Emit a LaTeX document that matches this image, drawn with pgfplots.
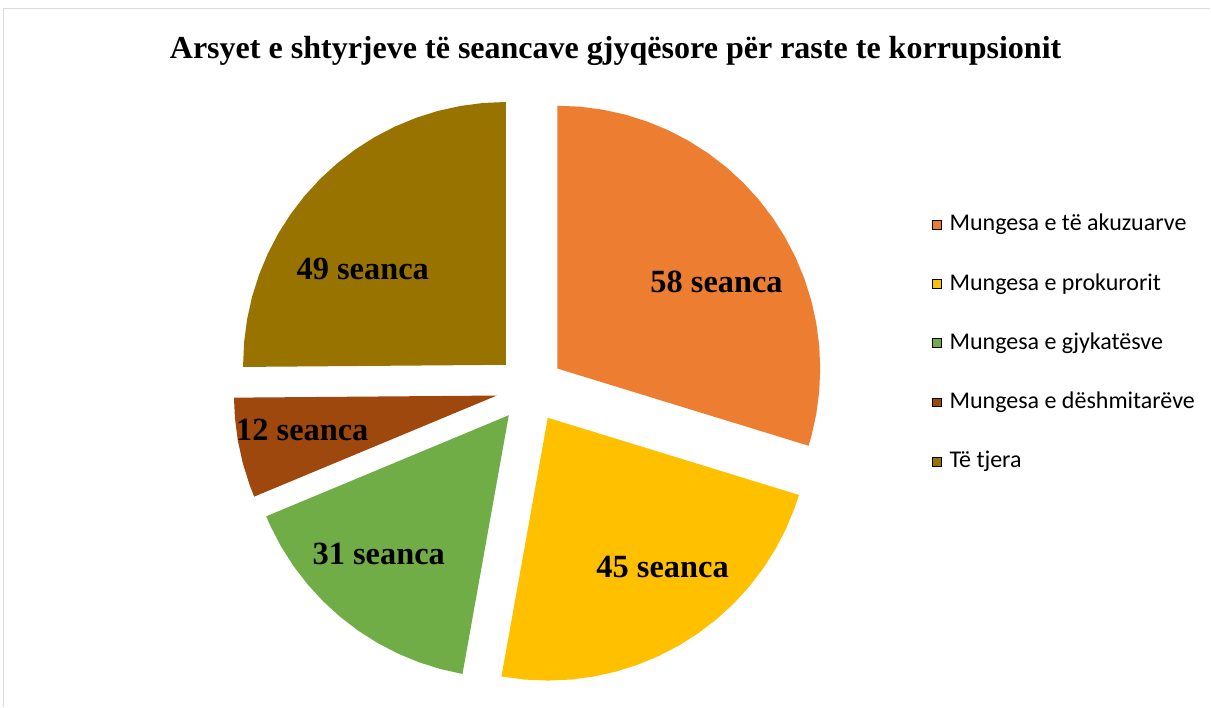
\documentclass[border=0pt]{standalone}
\usepackage{pgfplots}
\pgfplotsset{compat=1.18}
\usepackage{fontspec}
\setmainfont{Liberation Serif}
\newfontfamily\carlito{Carlito}
\definecolor{cOrange}{HTML}{ED7D31}
\definecolor{cYellow}{HTML}{FFC000}
\definecolor{cGreen}{HTML}{70AD47}
\definecolor{cBrown}{HTML}{9E480E}
\definecolor{cOlive}{HTML}{997300}
\definecolor{cFrame}{HTML}{D9D9D9}
\begin{document}
\begin{tikzpicture}
\begin{axis}[
  scale only axis, width=605.5pt, height=353.5pt,
  xmin=-530.4, xmax=680.6, ymin=-318, ymax=389,
  hide axis, clip=false,
  legend image code/.code={\fill[#1] (0pt,-2.2pt) rectangle (4.4pt,2.2pt); \path (7.5pt,0pt);},
  legend style={at={(axis cs:401.6,45.5)}, anchor=west, draw=none, fill=none,
    inner sep=0pt, row sep=16.6pt,
    font=\carlito\fontsize{12}{14}\selectfont,
    nodes={inner sep=1pt, text height=8.5pt, text depth=2.5pt}},
  legend cell align=left,
]
% bounding box
\path (axis cs:-530.4,-318) rectangle (axis cs:680.6,389);
% frame
\draw[cFrame, line width=0.75pt] (axis cs:-526.9,-318) -- (axis cs:-526.9,380.5) -- (axis cs:680.6,380.5);
% Mungesa e te akuzuarve: 58
\addplot[fill=cOrange, draw=none, data cs=polar, shift={(36.46:17pt)}, forget plot] coordinates {
(0,0) (90,263) (85,263) (80,263) (75,263) (70,263) (65,263) (60,263) (55,263) (50,263) (45,263) (40,263) (35,263) (30,263) (25,263) (20,263) (15,263) (10,263) (5,263) (0,263) (-5,263) (-10,263) (-15,263) (-17.08,263)};
% Mungesa e prokurorit: 45
\addplot[fill=cYellow, draw=none, data cs=polar, shift={(-58.615:17pt)}, forget plot] coordinates {
(0,0) (-17.08,263) (-20,263) (-25,263) (-30,263) (-35,263) (-40,263) (-45,263) (-50,263) (-55,263) (-60,263) (-65,263) (-70,263) (-75,263) (-80,263) (-85,263) (-90,263) (-95,263) (-100,263) (-100.15,263)};
% Mungesa e gjykatesve: 31
\addplot[fill=cGreen, draw=none, data cs=polar, shift={(-128.765:17pt)}, forget plot] coordinates {
(0,0) (-100.15,263) (-105,263) (-110,263) (-115,263) (-120,263) (-125,263) (-130,263) (-135,263) (-140,263) (-145,263) (-150,263) (-155,263) (-157.38,263)};
% Mungesa e deshmitareve: 12
\addplot[fill=cBrown, draw=none, data cs=polar, shift={(-168.46:17pt)}, forget plot] coordinates {
(0,0) (-157.38,263) (-160,263) (-165,263) (-170,263) (-175,263) (-179.54,263)};
% Te tjera: 49
\addplot[fill=cOlive, draw=none, data cs=polar, shift={(135.23:17pt)}, forget plot] coordinates {
(0,0) (180.46,263) (180,263) (175,263) (170,263) (165,263) (160,263) (155,263) (150,263) (145,263) (140,263) (135,263) (130,263) (125,263) (120,263) (115,263) (110,263) (105,263) (100,263) (95,263) (90,263)};
% legend
\addlegendimage{fill=cOrange}\addlegendentry{Mungesa e të akuzuarve}
\addlegendimage{fill=cYellow}\addlegendentry{Mungesa e prokurorit}
\addlegendimage{fill=cGreen}\addlegendentry{Mungesa e gjykatësve}
\addlegendimage{fill=cBrown}\addlegendentry{Mungesa e dëshmitarëve}
\addlegendimage{fill=cOlive}\addlegendentry{Të tjera}
% labels
\begin{scope}[every node/.style={inner sep=0pt, font=\bfseries\fontsize{16.2}{18}\selectfont}]
\node at (axis cs:186.6,107) {58 seanca};
\node at (axis cs:132.6,-178) {45 seanca};
\node at (axis cs:-151.4,-165) {31 seanca};
\node at (axis cs:-227.9,-41) {12 seanca};
\node at (axis cs:-167.4,120) {49 seanca};
\end{scope}
% title
\node[anchor=base, inner sep=0pt] at (axis cs:85.6,330.5) {\resizebox{446pt}{\height}{\bfseries\fontsize{16}{19}\selectfont Arsyet e shtyrjeve të seancave gjyqësore për raste te korrupsionit}};
\end{axis}
\end{tikzpicture}
\end{document}
